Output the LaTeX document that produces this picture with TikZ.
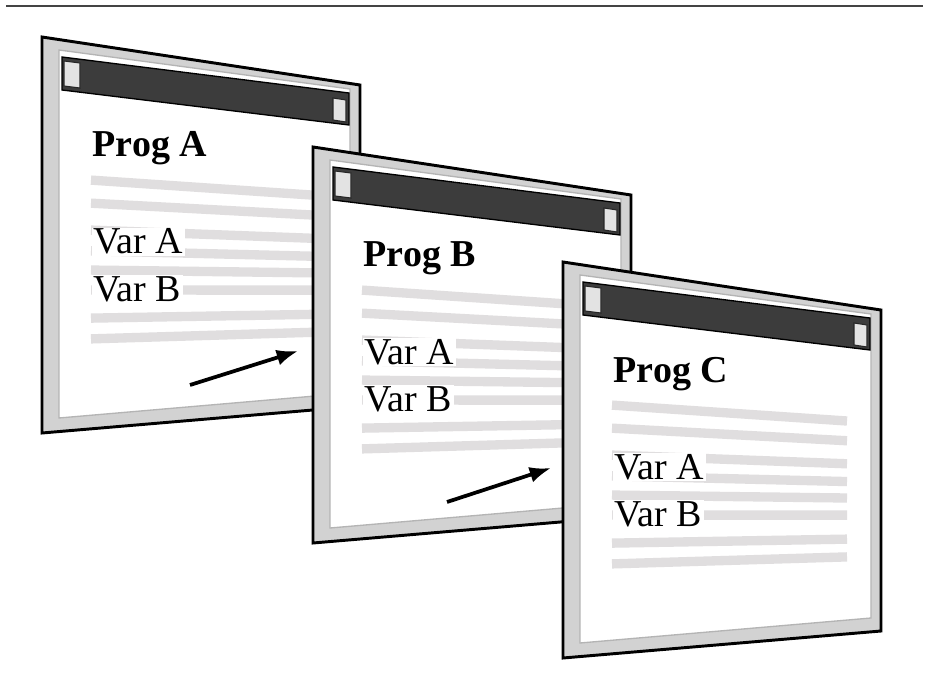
\documentclass[tikz,border=0pt]{standalone}
\usepackage{fontspec}
\setmainfont{Liberation Serif}
\usetikzlibrary{arrows.meta,calc}
\definecolor{frameg}{HTML}{D2D2D2}
\definecolor{inneredge}{HTML}{B4B4B4}
\definecolor{barg}{HTML}{3C3C3C}
\definecolor{stripeg}{HTML}{E0DEDF}
\definecolor{rulegray}{HTML}{444444}
\tikzset{
  outerframe/.style={draw=black, line width=2.2pt, fill=frameg, line join=miter},
  innerpane/.style={draw=inneredge, line width=1pt, fill=white},
  titlebar/.style={draw=black, line width=1pt, fill=barg},
  barbutton/.style={draw=black!85, line width=0.8pt, fill=gray!22},
  stripe/.style={draw=stripeg, line width=7pt},
  progtitle/.style={anchor=base west, font=\fontsize{28.5}{30}\selectfont\bfseries, inner sep=1pt},
  varlabel/.style={anchor=base west, font=\fontsize{28.5}{30}\selectfont, inner sep=1pt, fill=white},
  flowarrow/.style={draw=black, line width=2.8pt, -{Latex[length=16pt,width=12pt]}},
  toprule/.style={draw=rulegray, line width=2pt},
}
\newcommand{\progwin}[3]{% #1 letter, #2 x, #3 y
  \begin{scope}[shift={(#2,#3)}]
    \path[outerframe] (0,0) coordinate (win#1TL) -- (318,48) coordinate (win#1TR)
      -- (318,369) coordinate (win#1BR) -- (0,396) coordinate (win#1BL) -- cycle;
    \path[innerpane] (17,13) -- (308,52) -- (308,356) -- (17,381) -- cycle;
    \path[titlebar] (20,20) coordinate (bar#1L) -- (307,56) -- (307,88) coordinate (bar#1R) -- (20,53) -- cycle;
    \path[barbutton] (22,24) -- (38,26) -- (38,51) -- (22,49) -- cycle;
    \path[barbutton] (291,61) -- (304,63) -- (304,85) -- (291,83) -- cycle;
    \foreach \v in {0.353,0.413,0.483,0.537,0.587,0.639,0.712,0.766}{
      \pgfmathsetmacro{\yl}{396*\v+0.154*(48-75*\v)}
      \pgfmathsetmacro{\yr}{396*\v+0.893*(48-75*\v)}
      \draw[stripe] (49,\yl) -- (284,\yr);
    }
    \node[progtitle] (prog#1) at (49,120) {Prog #1};
    \node[varlabel] (var#1a) at (50,217) {Var A};
    \node[varlabel] (var#1b) at (50,264) {Var B};
  \end{scope}
}
\begin{document}
\begin{tikzpicture}[x=0.75pt,y=-0.75pt]
  \useasboundingbox (0,0) rectangle (930,691);
  \fill[white] (0,0) rectangle (930,691);
  \coordinate (ruleL) at (6,6);
  \coordinate (ruleR) at (923,6);
  \draw[toprule] (ruleL) -- (ruleR);
  \progwin{A}{42}{37}
  \progwin{B}{313}{147}
  \progwin{C}{563}{262}
  \coordinate (arrAtail) at (190,385);
  \coordinate (arrAtip) at (298,351);
  \coordinate (arrBtail) at (447,502);
  \coordinate (arrBtip) at (551,468);
  \draw[flowarrow] (arrAtail) -- (arrAtip);
  \draw[flowarrow] (arrBtail) -- (arrBtip);
\end{tikzpicture}
\end{document}
